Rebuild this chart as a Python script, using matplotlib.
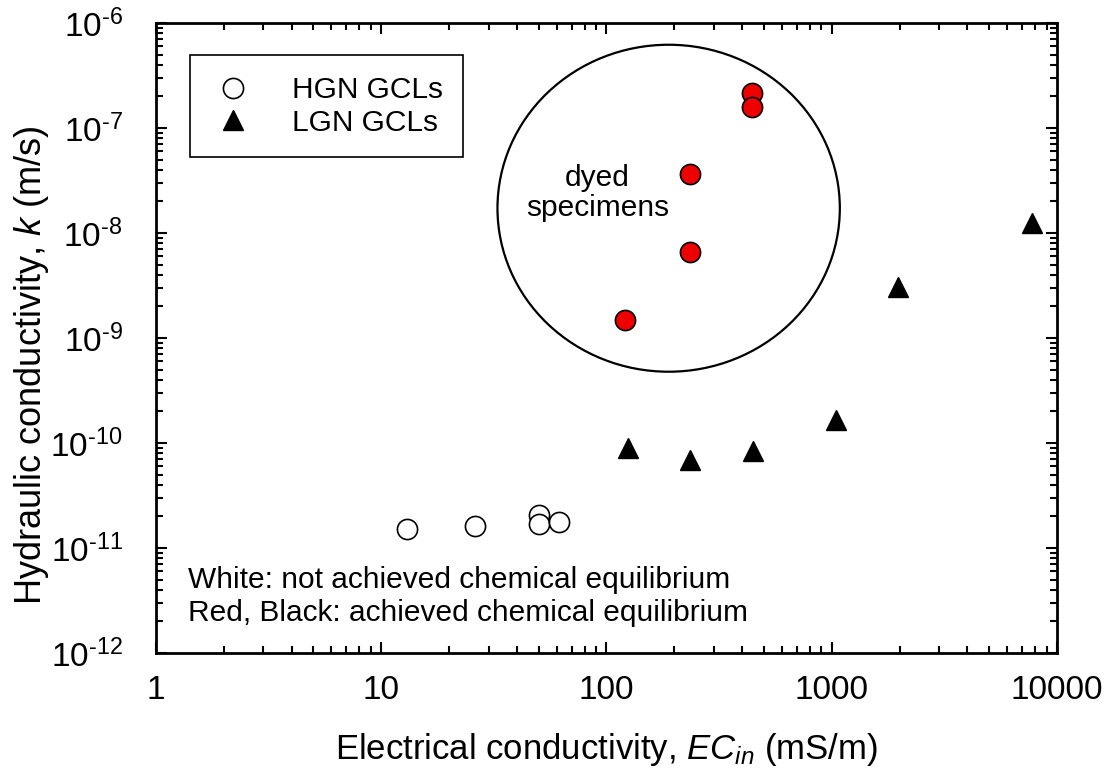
import matplotlib
matplotlib.use("Agg")
import matplotlib.pyplot as plt
from matplotlib.patches import Ellipse
from matplotlib.ticker import LogLocator, FixedLocator, NullFormatter

plt.rcParams['font.family'] = ['Liberation Sans', 'DejaVu Sans']
plt.rcParams['mathtext.fontset'] = 'custom'
plt.rcParams['mathtext.rm'] = 'Liberation Sans'
plt.rcParams['mathtext.it'] = 'Liberation Sans:italic'

# HGN GCLs (not at chemical equilibrium)
hgn_ec = [13.0, 26.2, 50.4, 50.4, 61.8]
hgn_k = [1.52e-11, 1.62e-11, 2.06e-11, 1.69e-11, 1.77e-11]

# LGN GCLs, dyed specimens (red)
dyed_ec = [441, 441, 236, 236, 121]
dyed_k = [2.15e-7, 1.58e-7, 3.65e-8, 6.6e-9, 1.48e-9]

# LGN GCLs, black triangles
lgn_ec = [124, 236, 446, 1042, 1965, 7740]
lgn_k = [8.95e-11, 6.9e-11, 8.4e-11, 1.66e-10, 3.06e-9, 1.25e-8]

xticks = [1, 10, 100, 1000, 10000]
yexp = [-12, -11, -10, -9, -8, -7, -6]

fig = plt.figure(figsize=(11.12, 7.8), dpi=100)
ax = fig.add_axes([0.1403, 0.1628, 0.8102, 0.8077])
ax.set_xscale('log')
ax.set_yscale('log')
ax.set_xlim(1, 10000)
ax.set_ylim(1e-12, 1e-6)

ax.plot(hgn_ec, hgn_k, 'o', ms=14.5, mfc='white', mec='black', mew=1.2,
        ls='none', label='HGN GCLs', zorder=3)
ax.plot(lgn_ec, lgn_k, '^', ms=15, color='black', ls='none',
        label='LGN GCLs', zorder=3)
ax.plot(dyed_ec, dyed_k, 'o', ms=14.5, mfc='#ee0000', mec='black', mew=1.2,
        ls='none', zorder=4)

# circle around the dyed specimens
ax.add_patch(Ellipse((0.569, 0.706), 0.380, 0.519, transform=ax.transAxes,
                     fill=False, ec='black', lw=1.6, zorder=2))
ax.text(0.490, 0.730, 'dyed\nspecimens', transform=ax.transAxes,
        ha='center', va='center', fontsize=21.5, linespacing=1.1)

ax.text(0.036, 0.116, 'White: not achieved chemical equilibrium',
        transform=ax.transAxes, ha='left', va='center', fontsize=21.5)
ax.text(0.036, 0.063, 'Red, Black: achieved chemical equilibrium',
        transform=ax.transAxes, ha='left', va='center', fontsize=21.5)

ax.xaxis.set_major_locator(FixedLocator(xticks))
ax.set_xticklabels([str(v) for v in xticks])
ax.yaxis.set_major_locator(FixedLocator([10.0 ** e for e in yexp]))
ax.set_yticklabels([r'$\mathregular{10^{\text{-%d}}}$' % -e for e in yexp])
for axis in (ax.xaxis, ax.yaxis):
    axis.set_minor_locator(LogLocator(base=10, subs=range(2, 10), numticks=20))
    axis.set_minor_formatter(NullFormatter())

ax.tick_params(which='both', direction='in', top=True, right=True,
               labelsize=24, width=1.5)
ax.tick_params(which='major', length=8)
ax.tick_params(which='minor', length=5)
ax.tick_params(axis='x', which='major', pad=16)
ax.tick_params(axis='y', which='major', pad=24)
for sp in ax.spines.values():
    sp.set_linewidth(2)

ax.set_xlabel(r'Electrical conductivity, $\mathit{EC_{in}}$ (mS/m)',
              fontsize=25, labelpad=18)
ax.set_ylabel(r'Hydraulic conductivity, $\mathit{k}$ (m/s)', fontsize=26)
ax.yaxis.set_label_coords(-0.117, 0.457)

leg = ax.legend(loc='upper left', bbox_to_anchor=(0.0377, 0.949),
                borderaxespad=0, fontsize=21.5, frameon=True, fancybox=False,
                edgecolor='black', framealpha=1, handletextpad=1.2,
                borderpad=0.7, labelspacing=0.15, handlelength=1.5)
leg.get_frame().set_linewidth(1.2)

fig.savefig('out.png', dpi=100)
